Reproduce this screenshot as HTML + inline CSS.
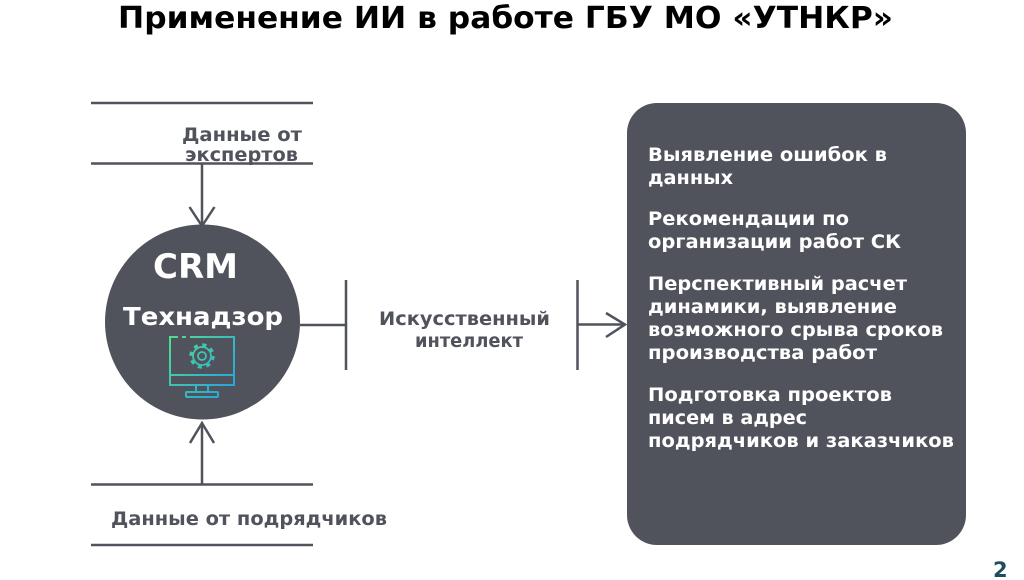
<!DOCTYPE html>
<html>
<head>
<meta charset="utf-8">
<style>
  html,body{margin:0;padding:0;background:#ffffff;}
  body{width:1024px;height:580px;overflow:hidden;}
  svg{display:block;}
  text{font-family:"DejaVu Sans","Liberation Sans",sans-serif;font-weight:bold;}
</style>
</head>
<body>
<svg width="1024" height="580" viewBox="0 0 1024 580" xmlns="http://www.w3.org/2000/svg">
  <defs>
    <linearGradient id="ig" gradientUnits="userSpaceOnUse" x1="170" y1="336" x2="234" y2="398">
      <stop offset="0" stop-color="#55dc8e"/>
      <stop offset="1" stop-color="#1f9fe6"/>
    </linearGradient>
  </defs>

  <!-- Title -->
  <text x="118" y="28" font-size="30" fill="#000000" textLength="775" lengthAdjust="spacingAndGlyphs">Применение ИИ в работе ГБУ МО «УТНКР»</text>

  <g stroke="#50535b" stroke-width="2.5" fill="none" stroke-linecap="butt">
    <line x1="91" y1="103" x2="313" y2="103"/>
    <line x1="91" y1="163.5" x2="313" y2="163.5"/>
    <line x1="91" y1="484.5" x2="313" y2="484.5"/>
    <line x1="91" y1="545" x2="313" y2="545"/>
    <line x1="202" y1="163.5" x2="202" y2="226"/>
    <polyline points="189.5,207 202,226 214.5,207"/>
    <line x1="202" y1="484.5" x2="202" y2="423"/>
    <polyline points="190,443 202,423 214,443"/>
    <line x1="300" y1="325" x2="346" y2="325"/>
    <line x1="346" y1="280" x2="346" y2="370"/>
    <line x1="577.5" y1="280" x2="577.5" y2="370"/>
    <line x1="577.5" y1="324.5" x2="625" y2="324.5"/>
    <polyline points="606,313 625,324.5 606,337"/>
  </g>

  <!-- labels left -->
  <g fill="#50535b" font-size="19">
    <text x="182" y="141" textLength="120" lengthAdjust="spacingAndGlyphs">Данные от</text>
    <text x="185" y="161" textLength="113" lengthAdjust="spacingAndGlyphs">экспертов</text>
    <text x="111" y="525" textLength="276" lengthAdjust="spacingAndGlyphs">Данные от подрядчиков</text>
    <text x="379" y="325" textLength="171" lengthAdjust="spacingAndGlyphs">Искусственный</text>
    <text x="415" y="347" textLength="108" lengthAdjust="spacingAndGlyphs">интеллект</text>
  </g>

  <!-- Circle -->
  <circle cx="202.5" cy="322" r="97.5" fill="#50535b"/>
  <text x="153" y="278" font-size="34" fill="#ffffff" textLength="85" lengthAdjust="spacingAndGlyphs">CRM</text>
  <text x="123" y="325" font-size="25" fill="#ffffff" textLength="160" lengthAdjust="spacingAndGlyphs">Технадзор</text>

  <!-- Icon -->
  <g stroke="url(#ig)" fill="none" stroke-width="2">
    <path d="M170 346 V385 H234 V337 H190"/>
    <path d="M170 346 V337 H178"/>
    <line x1="182" y1="337" x2="186" y2="337"/>
    <line x1="170" y1="375" x2="234" y2="375"/>
    <path d="M196 385 V392 M208 385 V392"/>
    <rect x="186" y="392" width="32" height="5" rx="1"/>
    <circle cx="202" cy="356" r="4" stroke-width="1.8"/>
    <circle cx="202" cy="356" r="9" stroke-width="1.8"/>
    <circle cx="202" cy="356" r="11" stroke-width="3.4" stroke-dasharray="4 4.64"/>
  </g>

  <!-- Right box -->
  <rect x="627" y="103" width="339" height="442" rx="30" ry="30" fill="#50535b"/>
  <g fill="#ffffff" font-size="18.5">
    <text x="648" y="161" textLength="239" lengthAdjust="spacingAndGlyphs">Выявление ошибок в</text>
    <text x="648" y="184" textLength="85" lengthAdjust="spacingAndGlyphs">данных</text>
    <text x="648" y="225" textLength="201" lengthAdjust="spacingAndGlyphs">Рекомендации по</text>
    <text x="648" y="248" textLength="253" lengthAdjust="spacingAndGlyphs">организации работ СК</text>
    <text x="648" y="290" textLength="259" lengthAdjust="spacingAndGlyphs">Перспективный расчет</text>
    <text x="648" y="313" textLength="249" lengthAdjust="spacingAndGlyphs">динамики, выявление</text>
    <text x="648" y="336" textLength="295" lengthAdjust="spacingAndGlyphs">возможного срыва сроков</text>
    <text x="648" y="359" textLength="229" lengthAdjust="spacingAndGlyphs">производства работ</text>
    <text x="648" y="401" textLength="244" lengthAdjust="spacingAndGlyphs">Подготовка проектов</text>
    <text x="648" y="424" textLength="159" lengthAdjust="spacingAndGlyphs">писем в адрес</text>
    <text x="648" y="447" textLength="306" lengthAdjust="spacingAndGlyphs">подрядчиков и заказчиков</text>
  </g>

  <!-- Page number -->
  <text x="993" y="577" font-size="21" fill="#1f4d5e">2</text>
</svg>
</body>
</html>
